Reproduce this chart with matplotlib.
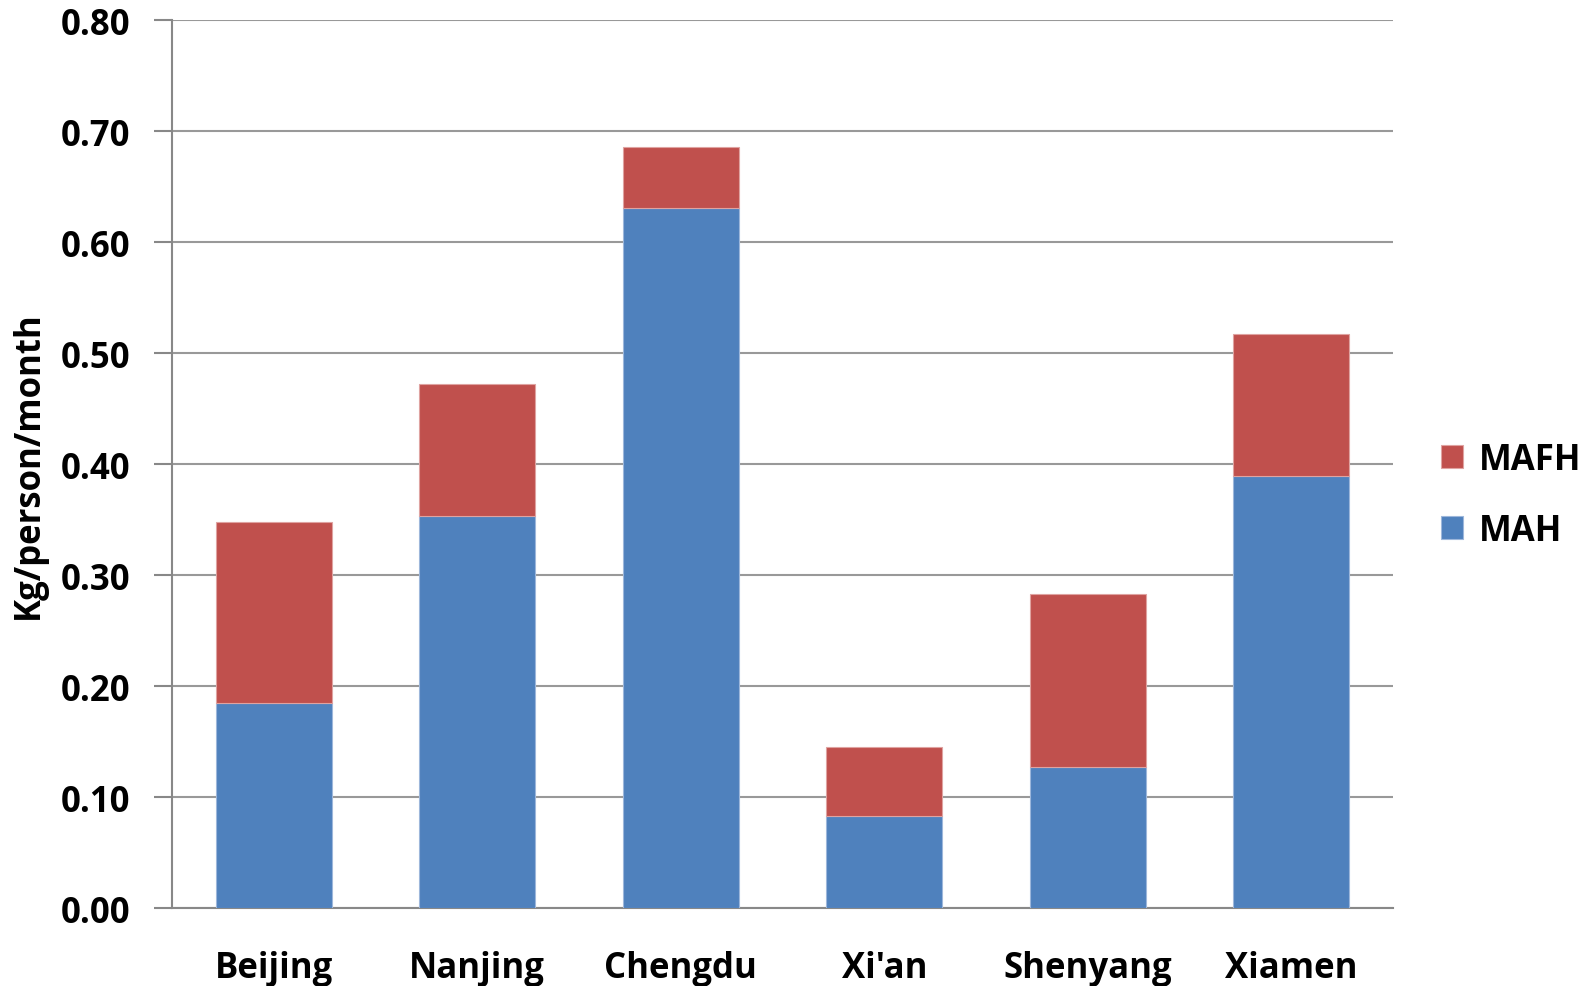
import matplotlib
matplotlib.use("Agg")
import matplotlib.pyplot as plt
import numpy as np

cities = ["Beijing", "Nanjing", "Chengdu", "Xi'an", "Shenyang", "Xiamen"]
mah = [0.185, 0.353, 0.631, 0.083, 0.127, 0.389]
mafh = [0.163, 0.119, 0.055, 0.062, 0.156, 0.128]
yticks = [0.0, 0.1, 0.2, 0.3, 0.4, 0.5, 0.6, 0.7, 0.8]

plt.rcParams['font.family'] = ['Open Sans', 'DejaVu Sans']
plt.rcParams['font.weight'] = 'bold'

fig = plt.figure(figsize=(15.85, 9.87), dpi=100)
ax = fig.add_axes([0.1085, 0.079, 0.7705, 0.8995])

x = np.arange(len(cities))
ax.bar(x, mah, width=0.57, color='#4F81BD', edgecolor='#9DB7DB', linewidth=0.8,
       label='MAH', zorder=3)
ax.bar(x, mafh, width=0.57, bottom=mah, color='#C0504D', edgecolor='#DFA3A1',
       linewidth=0.8, label='MAFH', zorder=3)

ax.set_xlim(-0.5, len(cities) - 0.5)
ax.set_ylim(0, 0.8)
ax.set_yticks(yticks)
ax.set_yticklabels([f"{v:.2f}" for v in yticks], fontsize=25, fontweight='bold')
ax.set_xticks(x)
ax.set_xticklabels(cities, fontsize=25, fontweight='bold')
ax.tick_params(axis='x', length=0, pad=30)
ax.tick_params(axis='y', length=13, width=1.5, color='#888888', pad=17)
ax.yaxis.grid(True, color='#999999', linewidth=1.5, zorder=0)

for side in ['top', 'right']:
    ax.spines[side].set_visible(False)
for side in ['left', 'bottom']:
    ax.spines[side].set_color('#888888')
    ax.spines[side].set_linewidth(1.5)

ax.set_ylabel('Kg/person/month', fontsize=25, fontweight='bold', labelpad=10)

handles, labels = ax.get_legend_handles_labels()
ax.legend(handles[::-1], labels[::-1], loc='center left', bbox_to_anchor=(1.039, 0.465),
          borderaxespad=0, borderpad=0, frameon=False, fontsize=25,
          handlelength=0.65, handleheight=0.65, handletextpad=0.45, labelspacing=1.0)

fig.savefig('out.png', dpi=100)
